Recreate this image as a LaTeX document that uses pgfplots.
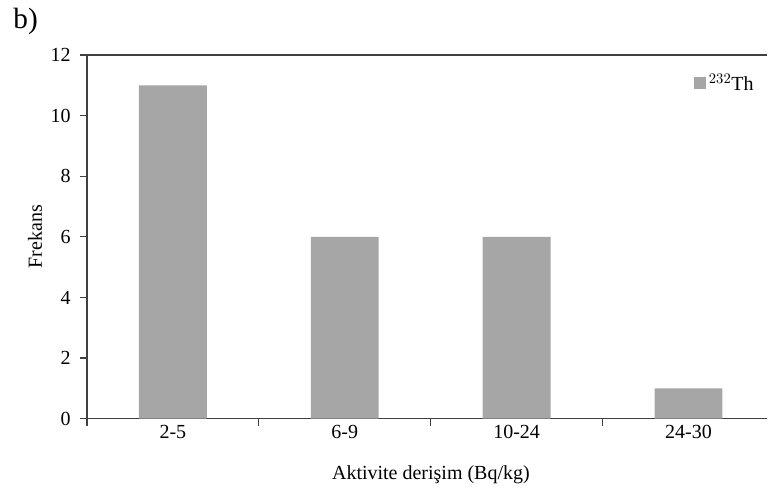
\documentclass[border=0pt]{standalone}
\usepackage{pgfplots}
\pgfplotsset{compat=1.18}
\usepackage{fontspec}
\setmainfont{Liberation Serif}
\definecolor{barcol}{HTML}{A6A6A6}
\definecolor{axcol}{HTML}{404040}

\pgfplotstableread{
x  n
0  11
1  6
2  6
3  1
}\thdata

\begin{document}
\begin{tikzpicture}[font=\fontsize{15}{18}\selectfont]
\path (0,0) rectangle (576pt,372pt);
\node[anchor=base west, font=\fontsize{22}{26}\selectfont] at (6.5pt,350.5pt) {b)};
\begin{axis}[
  at={(65.25pt,57.75pt)}, anchor=south west,
  scale only axis, width=510.75pt, height=273pt,
  xmin=-0.5, xmax=3.4593, ymin=0, ymax=12,
  axis x line*=box, axis y line*=left,
  ybar, bar width=51pt,
  axis line style={axcol, line width=0.9pt},
  tick style={axcol, line width=0.9pt},
  tick align=outside, major tick length=5.25pt,
  xtick pos=bottom, ytick pos=left,
  xtick={-0.5,0.5,1.5,2.5}, xticklabels={},
  extra x ticks={0,1,2,3},
  extra x tick labels={2-5,6-9,10-24,24-30},
  extra x tick style={major tick length=0pt, grid=none,
    xticklabel style={yshift=-1.5pt}},
  ytick={0,2,...,12},
  /pgf/number format/assume math mode=true,
  tick label style={font=\fontsize{15}{18}\selectfont},
  yticklabel style={xshift=-3.5pt},
  xlabel={Aktivite derişim (Bq/kg)},
  ylabel={Frekans},
  xlabel style={at={(axis description cs:0.5055,0)}, anchor=center, yshift=-42pt},
  ylabel style={at={(axis description cs:-0.0764,0.5)}, anchor=center},
  legend style={draw=none, fill=none, at={(0.99,0.962)}, anchor=north east,
    font=\fontsize{15}{18}\selectfont},
  legend image code/.code={\fill[barcol] (0pt,-4pt) rectangle (9pt,5pt);},
]
\addplot[fill=barcol, draw=none] table[x=x, y=n] {\thdata};
\addlegendentry{$^{232}$Th}
\end{axis}
\end{tikzpicture}
\end{document}
